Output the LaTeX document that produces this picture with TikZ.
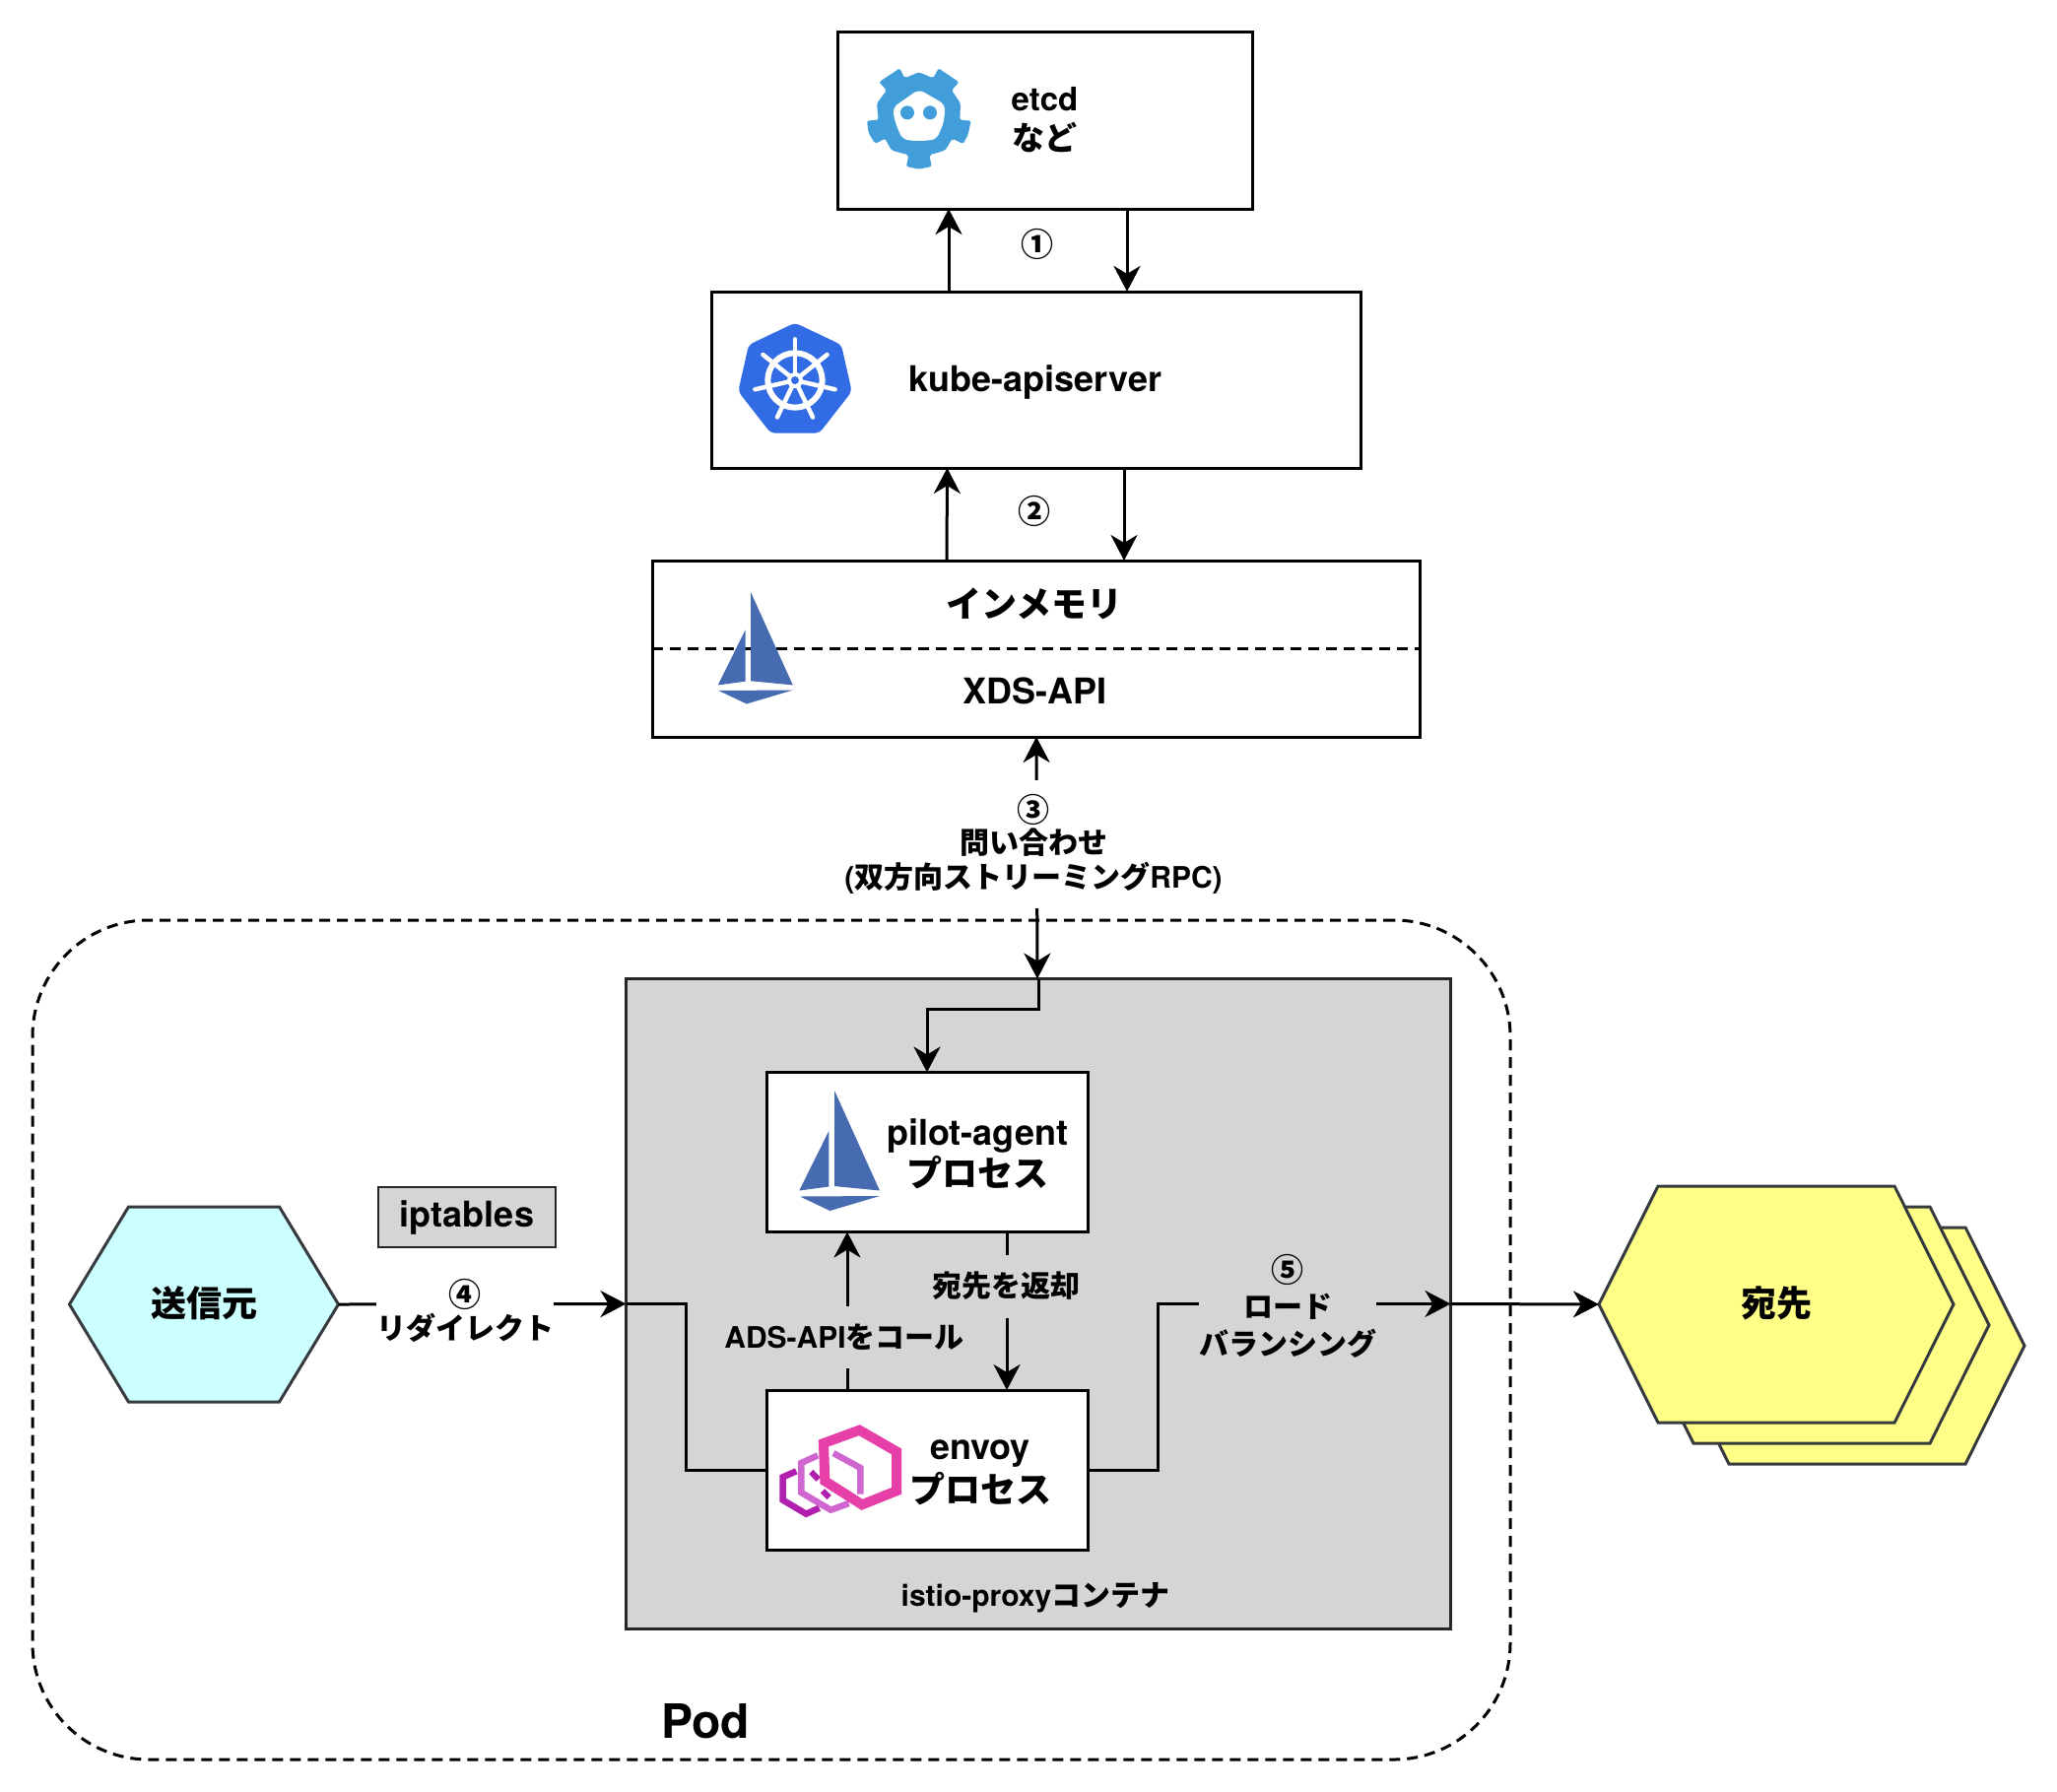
\documentclass[tikz,border=0pt]{standalone}
\usepackage{fontspec}
\setmainfont{TeX Gyre Heros}
\newfontfamily\jafont{Noto Sans CJK JP}
\newcommand{\ja}[1]{{\jafont #1}}
\newcommand{\num}[1]{{\fontsize{33}{35}\selectfont\jafont #1}}
\usetikzlibrary{arrows.meta,shapes.symbols}
\definecolor{containergray}{HTML}{D5D5D5}
\definecolor{edgegray}{HTML}{36393D}
\definecolor{srccyan}{HTML}{CCFFFF}
\definecolor{destyellow}{HTML}{FFFF88}
\definecolor{etcdblue}{HTML}{419EDA}
\definecolor{kubeblue}{HTML}{326CE5}
\definecolor{sailblue}{HTML}{466BB0}
\definecolor{envoypink}{HTML}{E63FA8}
\definecolor{envoylilac}{HTML}{D066D0}
\definecolor{envoypurple}{HTML}{B01FAE}
\tikzset{
  every node/.style={font=\fontsize{36}{41}\selectfont\bfseries,align=center},
  box/.style={draw,line width=3pt,fill=white,inner sep=0pt,outer sep=0pt},
  graybox/.style={draw=black!85,line width=2.9pt,fill=containergray,inner sep=0pt,outer sep=0pt},
  hexa/.style={draw=edgegray,line width=3pt,shape=signal,signal to=east and west,inner sep=0pt,outer sep=0pt},
  lbl/.style={font=\fontsize{30}{35}\selectfont\bfseries,inner xsep=0pt,inner ysep=11pt},
  sailicon/.pic={
    \fill[sailblue] (0,0) -- (46,101.5) -- (0,97) -- cycle;
    \fill[sailblue] (-5.7,41) -- (-35.7,101.5) -- (-5.7,97.5) -- cycle;
    \fill[sailblue] (-35,107.5) -- (46,107) -- (-4.5,122) -- cycle;
  }
}
\begin{document}
\begin{tikzpicture}[x=1pt,y=-1pt,line width=3pt,>={Stealth[length=26pt,width=27pt,inset=8pt]}]
  \useasboundingbox (0,0) rectangle (2088,1818);
  % upper boxes
  \node[box,minimum width=421pt,minimum height=180pt,font=\fontsize{33}{40}\selectfont\bfseries] (etcd) at (1060.5,122) {etcd\\\ja{など}};
  \node[box,minimum width=659pt,minimum height=179pt] (kube) at (1051.5,385.5) {};
  \node (kubename) at (1051,388) {kube-apiserver};
  \node[box,minimum width=779pt,minimum height=179pt] (mem) at (1051.5,658.5) {};
  \node (memtop) at (1050,613) {\ja{インメモリ}};
  \node (membottom) at (1050,701) {XDS-API};
  \draw[dashed,dash pattern=on 11pt off 7pt] (mem.west) -- (mem.east);
  % icons
  \begin{scope}[shift={(840,20)},scale=1/3]
    \fill[etcdblue,rounded corners=2pt] (220,148) -- (235,178) -- (278,160) -- (322,178) -- (338,148)
      -- (400,190) -- (378,215) -- (405,255) -- (403,305) -- (437,308) -- (428,350) -- (413,378)
      -- (380,362) -- (358,398) -- (310,412) -- (317,447) -- (278,455) -- (240,447) -- (247,412)
      -- (195,398) -- (175,362) -- (145,378) -- (125,345) -- (120,308) -- (155,305) -- (150,255)
      -- (180,215) -- (157,190) -- cycle;
    \fill[white,rounded corners=6pt] (278,212) -- (358,258) -- (355,310) -- (332,365) -- (278,370)
      -- (228,365) -- (205,310) -- (198,268) -- cycle;
    \fill[etcdblue] (243,283) circle (21) (312,283) circle (21);
  \end{scope}
  \begin{scope}[shift={(720,290)},scale=1/3]
    \fill[kubeblue,rounded corners=5pt] (261,113) -- (402,180) -- (434,322) -- (335,449) -- (187,449)
      -- (88,322) -- (120,180) -- cycle;
    \draw[white,line width=6pt] (261,288) circle (83);
    \foreach \a in {0,...,6}
      \draw[white,line width=4.5pt,line cap=round] (261,288) -- ++({-90+\a*360/7}:125);
    \fill[white] (261,288) circle (24);
    \fill[kubeblue] (261,288) circle (12);
  \end{scope}
  \pic[scale=.93] (memsail) at (762,601) {sailicon};
  \draw[->] ([xshift=-88.5pt]kube.north) -- ([xshift=-97.5pt]etcd.south);
  \draw[->] ([xshift=83.5pt]etcd.south) -- ([xshift=92.5pt]kube.north);
  \draw[->] ([xshift=-90.5pt]mem.north) -- ([xshift=-90pt]kube.south);
  \draw[->] ([xshift=89.5pt]kube.south) -- ([xshift=89.5pt]mem.north);
  \node[lbl] (num1) at (1053,248) {\num{①}};
  \node[lbl] (num2) at (1050,519) {\num{②}};
  % pod
  \node[draw,line width=3pt,dashed,dash pattern=on 11pt off 7pt,rounded corners=118pt,
    minimum width=1500pt,minimum height=852pt] (pod) at (783,1360) {};
  \node[graybox,minimum width=837pt,minimum height=660pt] (cont) at (1054,1323.5) {};
  \node[font=\fontsize{48}{52}\selectfont\bfseries] (podname) at (716,1747) {Pod};
  \node[lbl] (contname) at (1051,1622) {istio-proxy\ja{コンテナ}};
  \node[box,minimum width=326pt,minimum height=162pt] (pilot) at (941,1169.5) {};
  \node[box,minimum width=326pt,minimum height=162pt] (envoy) at (941,1492) {};
  \node (pilotname) at (992,1171) {pilot-agent\\[1pt]\ja{プロセス}};
  \node (envoyname) at (995,1495) {envoy\\[3pt]\ja{プロセス}};
  \pic (pilotsail) at (847,1107) {sailicon};
  \begin{scope}[shift={(760,1400)},scale=1/3,line cap=butt]
    \draw[envoypurple,line width=6.5pt] (145,280) -- (104,298) -- (104,368) -- (175,410) -- (215,392);
    \draw[envoypurple,line width=6pt] (190,282) -- (212,305) (225,340) -- (245,360);
    \draw[envoylilac,line width=6.5pt] (210,232) -- (160,255) -- (160,345) -- (250,398) -- (305,378);
    \draw[envoylilac,line width=6.5pt] (258,225) -- (340,270) -- (340,350);
    \draw[envoypink,line width=10pt] (337,155) -- (450,220) -- (450,340) -- (345,382) -- (232,310) -- (228,195) -- cycle;
  \end{scope}
  % hexagons
  \node[hexa,fill=srccyan,minimum width=273pt,minimum height=198pt,signal pointer angle=117.6] (src) at (207,1324) {\raisebox{5.5pt}{\ja{送信元}}};
  \node[graybox,minimum width=180pt,minimum height=61pt] (iptables) at (474,1235.5) {iptables};
  \node[hexa,fill=destyellow,minimum width=360pt,minimum height=240pt,signal pointer angle=126.9] (dest3) at (1875,1366) {};
  \node[hexa,fill=destyellow,minimum width=360pt,minimum height=240pt,signal pointer angle=126.9] (dest2) at (1839,1345) {};
  \node[hexa,fill=destyellow,minimum width=360pt,minimum height=240pt,signal pointer angle=126.9] (dest1) at (1803,1324) {\raisebox{5.5pt}{\ja{宛先}}};
  % connectors
  \draw[<->] ([xshift=.5pt]mem.south) -- ([xshift=-1pt]cont.north);
  \draw[->] (cont.north) -- ++(0,31) -| (pilot.north);
  \draw[->] (src.east) -- (cont.west);
  \draw (cont.west) -- ++(61,0) |- (envoy.west);
  \draw[->] ([xshift=-81pt]envoy.north) -- ([xshift=-81pt]pilot.south);
  \draw[->] ([xshift=81pt]pilot.south) -- ([xshift=81pt]envoy.north);
  \draw[->] (envoy.east) -- ++(71.5,0) |- (cont.east);
  \draw[->] (cont.east) -- (dest1.west);
  % labels on the lines
  \node[lbl,fill=white,inner ysep=14pt] (asklabel) at (1049,857) {\num{③}\\[-3pt]\ja{問い合わせ}\\(\ja{双方向ストリーミング}RPC)};
  \node[lbl,fill=white] (redirlabel) at (472,1330) {\num{④}\\[-2pt]\ja{リダイレクト}};
  \node[lbl,fill=containergray,minimum height=64pt] (retlabel) at (1021,1305.5) {\ja{宛先を返却}};
  \node[lbl,fill=containergray,minimum height=63pt] (adslabel) at (857,1357.5) {ADS-API\ja{をコール}};
  \node[lbl,fill=containergray] (lblabel) at (1307,1326) {\num{⑤}\\[1pt]\ja{ロード}\\[3pt]\ja{バランシング}};
\end{tikzpicture}
\end{document}
